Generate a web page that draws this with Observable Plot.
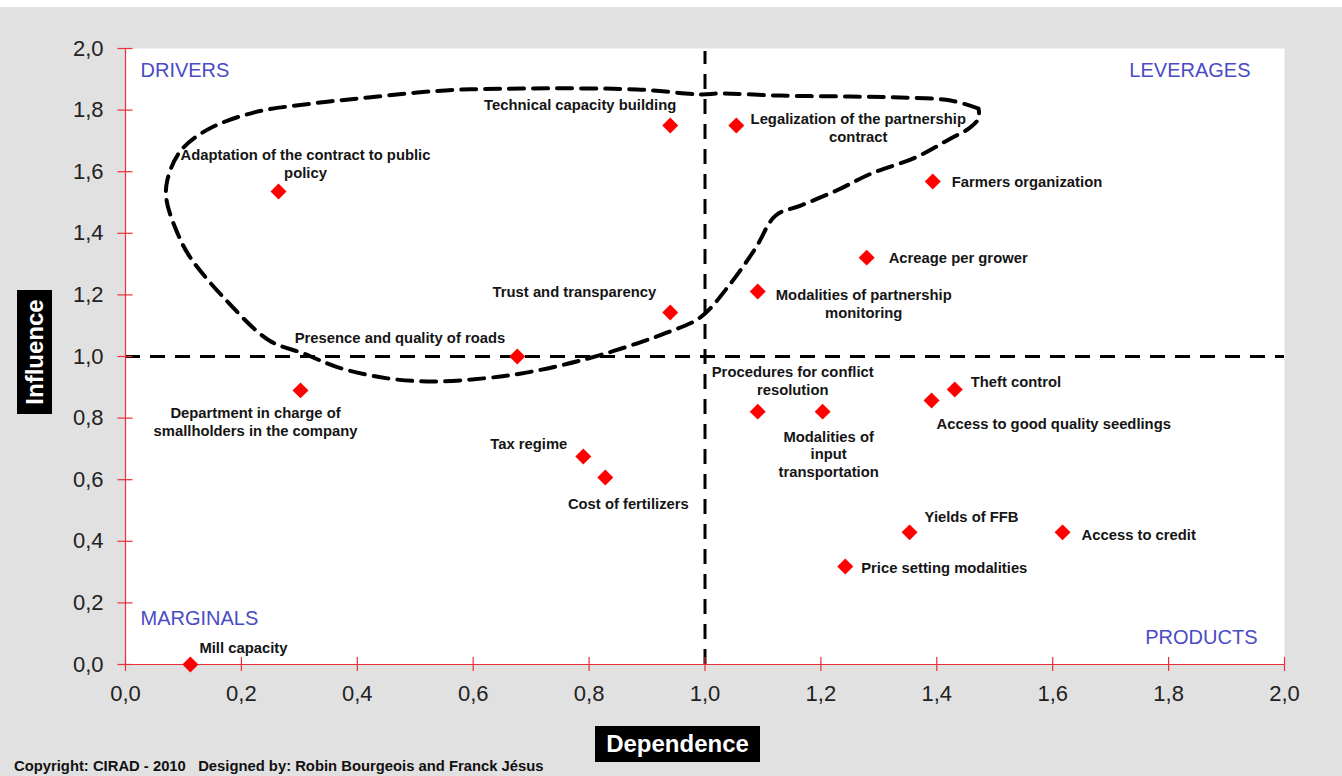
<!DOCTYPE html>
<html>
<head>
<meta charset="utf-8">
<script src="https://cdn.jsdelivr.net/npm/d3@7"></script>
<script src="https://cdn.jsdelivr.net/npm/@observablehq/plot@0.6"></script>
<style>
  html, body { margin: 0; padding: 0; background: #ffffff; }
  #wrap { position: relative; width: 1342px; height: 776px; background: #e1e1e1; overflow: hidden; font-family: "Liberation Sans", Arial, sans-serif; }
  #topstrip { position: absolute; left: 0; top: 0; width: 1342px; height: 7px; background: #ffffff; }
  #chart { position: absolute; left: 0; top: 0; }
  .axlab { position: absolute; background: #000; color: #fff; font-weight: bold; font-size: 24px; display: flex; align-items: center; justify-content: center; }
  #ylab { left: 17px; top: 290px; width: 35px; height: 124px; }
  #ylab span { display: inline-block; transform: rotate(-90deg); white-space: nowrap; }
  #xlab { left: 595px; top: 726px; width: 165px; height: 36px; }
  #copy { position: absolute; left: 14px; top: 758px; font-size: 14.8px; font-weight: bold; color: #111; white-space: pre; }
</style>
</head>
<body>
<div id="wrap">
  <div id="topstrip"></div>
  <div id="chart"></div>
  <div class="axlab" id="ylab"><span>Influence</span></div>
  <div class="axlab" id="xlab"><span>Dependence</span></div>
  <div id="copy">Copyright: CIRAD - 2010   Designed by: Robin Bourgeois and Franck Jésus</div>
</div>
<script>
// ---- Data ----
const variables = [
  "Adaptation of the contract to public\npolicy",
  "Technical capacity building",
  "Legalization of the partnership\ncontract",
  "Farmers organization",
  "Acreage per grower",
  "Modalities of partnership\nmonitoring",
  "Trust and transparency",
  "Presence and quality of roads",
  "Department in charge of\nsmallholders in the company",
  "Tax regime",
  "Cost of fertilizers",
  "Procedures for conflict\nresolution",
  "Modalities of\ninput\ntransportation",
  "Theft control",
  "Access to good quality seedlings",
  "Yields of FFB",
  "Access to credit",
  "Price setting modalities",
  "Mill capacity"
];
const dependence = [0.264, 0.940, 1.054, 1.393, 1.279, 1.091, 0.940, 0.676, 0.302, 0.790, 0.828, 1.091, 1.203, 1.431, 1.391, 1.353, 1.617, 1.242, 0.112];
const influence  = [1.536, 1.750, 1.750, 1.568, 1.321, 1.211, 1.143, 1.000, 0.890, 0.675, 0.607, 0.821, 0.821, 0.893, 0.857, 0.429, 0.429, 0.318, 0.000];

// Hand-drawn grouping contour (dependence, influence)
const contourX = [1.472, 1.424, 1.337, 1.251, 1.130, 1.027, 0.992, 0.882, 0.683, 0.552, 0.419, 0.321, 0.221, 0.140, 0.094, 0.072, 0.071, 0.090, 0.112, 0.174, 0.248, 0.307, 0.368, 0.452, 0.531, 0.618, 0.683, 0.751, 0.816, 0.882, 0.935, 0.992, 1.044, 1.087, 1.122, 1.165, 1.227, 1.287, 1.363, 1.424, 1.455, 1.472, 1.472];
const contourY = [1.805, 1.831, 1.841, 1.844, 1.847, 1.854, 1.851, 1.867, 1.870, 1.864, 1.841, 1.821, 1.792, 1.735, 1.665, 1.571, 1.506, 1.399, 1.321, 1.182, 1.052, 1.010, 0.964, 0.929, 0.919, 0.929, 0.945, 0.971, 1.003, 1.042, 1.078, 1.127, 1.237, 1.351, 1.458, 1.490, 1.539, 1.594, 1.646, 1.708, 1.740, 1.773, 1.805];

const axisTicks = [0, 0.2, 0.4, 0.6, 0.8, 1.0, 1.2, 1.4, 1.6, 1.8, 2.0];
const threshold = [1.0];
const quadrants = ["DRIVERS", "LEVERAGES", "MARGINALS", "PRODUCTS"];

// ---- Label layout (offsets in px from each marker) ----
const labelLayout = [
  {anchor: "middle", dx: 27,  dy: -28},
  {anchor: "end",    dx: 6,   dy: -21},
  {anchor: "middle", dx: 122, dy: 2},
  {anchor: "start",  dx: 19,  dy: 0},
  {anchor: "start",  dx: 22,  dy: 0},
  {anchor: "middle", dx: 106, dy: 12},
  {anchor: "end",    dx: -14, dy: -21},
  {anchor: "end",    dx: -12, dy: -19},
  {anchor: "middle", dx: -45, dy: 31},
  {anchor: "end",    dx: -16, dy: -13},
  {anchor: "middle", dx: 23,  dy: 26},
  {anchor: "middle", dx: 35,  dy: -31},
  {anchor: "middle", dx: 6,   dy: 42},
  {anchor: "start",  dx: 16,  dy: -8},
  {anchor: "start",  dx: 5,   dy: 23},
  {anchor: "start",  dx: 15,  dy: -16},
  {anchor: "start",  dx: 19,  dy: 2},
  {anchor: "start",  dx: 16,  dy: 1},
  {anchor: "start",  dx: 9,   dy: -17}
];

const points = variables.map((name, i) => ({name, x: dependence[i], y: influence[i]}));
const contour = contourX.map((x, i) => ({x, y: contourY[i]}));
const fmt = d => d3.format(".1f")(d).replace(".", ",");

const FONT = "'Liberation Sans', Arial, sans-serif";
const quadColor = "#4b4bc6";

const labelMarks = points.map((p, i) => Plot.text([p], {
  x: "x", y: "y", text: "name",
  textAnchor: labelLayout[i].anchor,
  dx: labelLayout[i].dx, dy: labelLayout[i].dy,
  lineAnchor: "middle", lineHeight: 1.18,
  fontSize: 14.8, fontWeight: "bold", fill: "#151515"
}));

const chart = Plot.plot({
  width: 1342,
  height: 776,
  marginLeft: 125,
  marginRight: 58,
  marginTop: 48,
  marginBottom: 112,
  style: {background: "transparent", fontFamily: FONT, color: "#222", overflow: "visible"},
  x: {domain: [0, 2], label: null},
  y: {domain: [0, 2], label: null},
  marks: [
    Plot.frame({fill: "white", stroke: "none"}),
    // threshold lines
    Plot.ruleY(threshold, {x1: 0, x2: 2, stroke: "#000", strokeWidth: 3, strokeDasharray: "15,10"}),
    Plot.ruleX(threshold, {y1: 0, y2: 1.99, stroke: "#000", strokeWidth: 3, strokeDasharray: "15,10"}),
    // grouping contour
    Plot.line(contour, {x: "x", y: "y", curve: "catmull-rom", stroke: "#000", strokeWidth: 4, strokeDasharray: "15,9"}),
    // red axes
    Plot.ruleY([0], {stroke: "#e8313a", strokeWidth: 1.2}),
    Plot.ruleX([0], {stroke: "#e8313a", strokeWidth: 1.2}),
    Plot.ruleX(axisTicks, {x: d => d, y1: -0.023, y2: 0.023, stroke: "#e8313a", strokeWidth: 1.2}),
    Plot.ruleY(axisTicks, {y: d => d, x1: -0.013, x2: 0.013, stroke: "#e8313a", strokeWidth: 1.2}),
    Plot.axisX({ticks: axisTicks, tickFormat: fmt, tickSize: 0, tickPadding: 21, fontSize: 22, label: null}),
    Plot.axisY({ticks: axisTicks, tickFormat: fmt, tickSize: 0, tickPadding: 22, fontSize: 22, label: null}),
    // quadrant names
    Plot.text([quadrants[0]], {frameAnchor: "top-left", dx: 15, dy: 14, fontSize: 20, fill: quadColor}),
    Plot.text([quadrants[1]], {frameAnchor: "top-right", dx: -34, dy: 14, fontSize: 20, fill: quadColor}),
    Plot.text([quadrants[2]], {frameAnchor: "bottom-left", dx: 15, dy: -40, fontSize: 20, fill: quadColor}),
    Plot.text([quadrants[3]], {frameAnchor: "bottom-right", dx: -27, dy: -21, fontSize: 20, fill: quadColor}),
    // markers
    Plot.dot(points, {x: "x", y: "y", symbol: "diamond2", r: 7.2, fill: "#ff0000", stroke: "none"}),
    ...labelMarks
  ]
});
document.getElementById("chart").appendChild(chart);
</script>
</body>
</html>
